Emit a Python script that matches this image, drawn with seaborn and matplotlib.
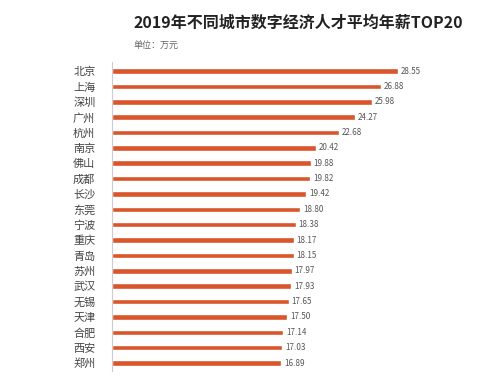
import pandas as pd
import matplotlib.pyplot as plt
import seaborn as sns

sns.set_theme(style="white")
plt.rcParams['font.family'] = ['Noto Sans CJK SC', 'DejaVu Sans']

cities = ["北京", "上海", "深圳", "广州", "杭州", "南京", "佛山", "成都", "长沙", "东莞",
          "宁波", "重庆", "青岛", "苏州", "武汉", "无锡", "天津", "合肥", "西安", "郑州"]
salaries = [28.55, 26.88, 25.98, 24.27, 22.68, 20.42, 19.88, 19.82, 19.42, 18.80,
            18.38, 18.17, 18.15, 17.97, 17.93, 17.65, 17.50, 17.14, 17.03, 16.89]

df = pd.DataFrame({"city": cities, "salary": salaries})

fig = plt.figure(figsize=(5, 3.78), dpi=100)
ax = fig.add_axes([0.224, 0.0193, 0.736, 0.8172])

sns.barplot(data=df, x="salary", y="city", orient="h", color="#D9552B",
            width=0.36, saturation=1, ax=ax)

ax.set_xlim(0, 36.8)
ax.set_ylim(19.5, -0.6)
ax.set_xlabel("")
ax.set_ylabel("")
ax.set_xticks([])
for s in ["top", "right", "bottom"]:
    ax.spines[s].set_visible(False)
ax.spines["left"].set_color("#cccccc")
ax.spines["left"].set_linewidth(0.8)
ax.tick_params(axis="y", length=0, pad=12, labelsize=8, labelcolor="#444444")

for i, v in enumerate(salaries):
    ax.text(v + 0.3, i, f"{v:.2f}", va="center", ha="left", fontsize=5.8, color="#555555")

fig.text(0.596, 0.94, "2019年不同城市数字经济人才平均年薪TOP20", ha="center", va="center",
         fontsize=11.5, fontweight="heavy", color="#222222")
fig.text(0.266, 0.881, "单位：万元", ha="left", va="center", fontsize=6.5, color="#666666")

fig.savefig("out.png", dpi=100)
